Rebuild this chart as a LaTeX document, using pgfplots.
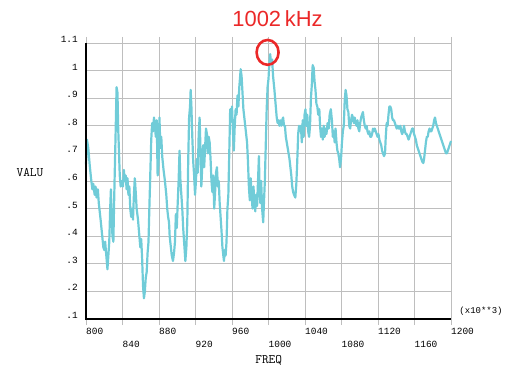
\documentclass[border=0pt]{standalone}
\usepackage{pgfplots}
\pgfplotsset{compat=1.18}
\usepackage{fontspec}
\setmainfont{Liberation Sans}
\newfontfamily\mono{Liberation Mono}
\definecolor{curve}{RGB}{112,204,216}
\definecolor{gridc}{RGB}{190,190,190}
\definecolor{titlered}{RGB}{235,40,40}
\pgfplotstableread{
x y
800 0.66
801 0.75
802.5 0.72
804 0.66
805.5 0.61
807 0.57
808 0.59
809.5 0.55
810.5 0.58
811.5 0.54
813 0.57
814 0.52
816 0.46
817.5 0.41
819 0.36
820 0.35
821 0.38
822 0.34
823.5 0.28
824.5 0.33
825.5 0.38
826.5 0.50
827.3 0.57
828 0.48
829 0.40
830 0.38
830.8 0.52
831.5 0.63
832.5 0.78
833.5 0.94
834.5 0.92
835.2 0.80
836 0.72
837 0.62
838 0.58
839.5 0.60
840.5 0.58
841.5 0.64
842.5 0.60
843.5 0.62
844.5 0.57
845.5 0.61
846.5 0.55
847.5 0.58
848.5 0.50
849.5 0.47
850.5 0.50
851.5 0.46
852.5 0.55
853.5 0.61
854.5 0.56
855.5 0.50
857 0.46
858.5 0.40
859.5 0.36
860.5 0.39
861.5 0.32
862.5 0.22
863.5 0.175
864.5 0.20
865.5 0.25
866.5 0.27
867.5 0.34
868.5 0.38
869.5 0.51
870.5 0.63
871.5 0.75
872.5 0.81
873.5 0.78
874.5 0.83
875.5 0.80
876.5 0.76
877.5 0.82
878.5 0.62
879.5 0.66
880.5 0.83
881.5 0.72
882.5 0.76
883.5 0.69
885 0.64
886.5 0.60
888 0.55
889 0.50
890 0.47
891 0.45
891.7 0.40
893 0.36
894 0.33
895.3 0.31
896.5 0.34
897.5 0.38
898.5 0.48
899.5 0.43
900.5 0.52
901.5 0.60
902.5 0.71
903.5 0.60
904.5 0.55
905.5 0.50
906.5 0.43
907.5 0.38
908.9 0.31
910 0.36
911 0.45
912 0.67
913 0.83
914 0.87
914.7 0.93
915.5 0.87
916.5 0.76
917.5 0.67
918.5 0.62
919.5 0.55
920.5 0.60
921.5 0.68
922.5 0.63
923.5 0.77
924.5 0.83
925.5 0.71
926.4 0.58
927.5 0.66
928.5 0.73
929.5 0.65
930.5 0.72
931.5 0.79
932.5 0.77
933.5 0.70
934.5 0.76
935.5 0.74
936.5 0.68
937.5 0.60
938.5 0.56
939.5 0.62
940.5 0.50
941.5 0.56
942.5 0.63
943.5 0.65
944.5 0.58
945.5 0.60
946.5 0.52
947.5 0.47
948.5 0.42
949.5 0.36
950.5 0.33
951.2 0.31
952 0.35
953 0.33
954 0.38
955 0.50
956 0.55
957 0.70
958 0.86
959 0.83
960 0.87
961 0.78
962 0.71
963 0.80
964 0.86
965 0.84
966 0.91
967 0.87
968 0.94
969.5 1.005
970.5 0.98
971.5 0.92
972.5 0.86
973.5 0.83
974.5 0.80
975.5 0.77
976.5 0.74
977.5 0.67
978.5 0.58
979.5 0.53
980.5 0.61
981.5 0.55
982.5 0.50
983.5 0.58
984.5 0.53
985.5 0.49
986.5 0.55
987.5 0.51
988.5 0.60
989.5 0.69
990.3 0.56
991 0.52
992 0.60
993 0.50
994.2 0.45
995 0.52
996 0.60
997 0.73
998 0.86
999 0.94
1000 0.97
1001 1.03
1001.8 1.06
1002.8 1.03
1004 1.04
1005 0.98
1006.5 0.93
1008 0.87
1009 0.83
1010 0.81
1011 0.82
1012 0.80
1013 0.82
1014 0.80
1015 0.82
1016 0.83
1017 0.80
1018 0.80
1019 0.76
1020 0.74
1021 0.72
1022 0.70
1023 0.68
1024 0.65
1025 0.62
1026 0.58
1027 0.56
1028 0.55
1029.4 0.54
1030.5 0.59
1031.5 0.67
1032.5 0.77
1033.5 0.80
1034.5 0.78
1035.5 0.80
1036.5 0.74
1037.5 0.82
1038.5 0.76
1039.5 0.84
1040.5 0.86
1041.5 0.80
1042.5 0.84
1043.5 0.78
1044.5 0.76
1045.5 0.80
1046.5 0.90
1047.5 0.95
1048.4 1.02
1049.5 1.01
1050.5 0.96
1051.5 0.93
1052.5 0.88
1053.5 0.87
1054.5 0.84
1055.7 0.86
1056.5 0.80
1057.5 0.76
1058.5 0.79
1059.5 0.75
1060.5 0.80
1061.5 0.76
1062.5 0.79
1063.5 0.77
1064.8 0.81
1066 0.79
1067 0.84
1068.3 0.86
1069.5 0.82
1070.5 0.76
1071.5 0.78
1072.5 0.74
1073.5 0.79
1074.5 0.74
1075.5 0.71
1076.5 0.70
1077.5 0.68
1078.4 0.65
1079.5 0.68
1080.5 0.74
1081.5 0.78
1082.5 0.80
1083.5 0.89
1084.5 0.93
1085.5 0.91
1086.5 0.86
1087.5 0.85
1088.5 0.80
1089.5 0.79
1090.5 0.82
1091.5 0.84
1092.5 0.83
1093.5 0.81
1094.5 0.83
1095.5 0.81
1096.5 0.80
1097.5 0.82
1098.5 0.79
1099.5 0.78
1100.5 0.81
1101.5 0.83
1102.5 0.84
1103.5 0.85
1104.5 0.82
1105.5 0.80
1106.5 0.79
1107.5 0.80
1108.5 0.78
1109.5 0.77
1110.5 0.78
1111.5 0.76
1112.5 0.76
1113.5 0.77
1114.5 0.79
1115.5 0.78
1116.5 0.79
1117.5 0.78
1118.5 0.77
1119.5 0.76
1120.5 0.77
1121.5 0.75
1122.5 0.74
1123.5 0.73
1124.5 0.71
1125.5 0.70
1126.6 0.69
1127.7 0.70
1128.5 0.76
1129.5 0.81
1130.5 0.80
1131.5 0.84
1132.5 0.87
1133.5 0.87
1134.5 0.86
1135.5 0.83
1136.5 0.82
1137.5 0.82
1138.5 0.81
1139.5 0.80
1140.5 0.79
1141.5 0.80
1142.5 0.79
1143.5 0.79
1144.5 0.80
1145.5 0.78
1146.5 0.77
1147.5 0.78
1148.5 0.80
1149.5 0.78
1150.5 0.77
1151.5 0.77
1152.5 0.76
1153.5 0.75
1154.5 0.76
1155.5 0.77
1156.5 0.78
1157.5 0.79
1158.5 0.79
1159.5 0.77
1160.5 0.76
1161.5 0.75
1162.5 0.73
1163.5 0.72
1164.5 0.71
1165.5 0.70
1166.5 0.69
1167.5 0.68
1168.5 0.67
1169.7 0.665
1170.5 0.68
1171.5 0.71
1172.5 0.74
1173.5 0.76
1174.5 0.76
1175.5 0.78
1176.5 0.79
1177.5 0.78
1178.5 0.78
1179.5 0.79
1180.5 0.80
1181.5 0.82
1182.5 0.83
1183.5 0.81
1184.5 0.80
1185.5 0.79
1186.5 0.78
1187.5 0.77
1188.5 0.76
1189.5 0.75
1190.5 0.74
1191.5 0.73
1192.5 0.72
1193.5 0.71
1194.5 0.70
1195.5 0.70
1196.5 0.71
1197.5 0.72
1198.5 0.73
1199.5 0.74
1200 0.745
}\datatable
\begin{document}
\begin{tikzpicture}
\begin{axis}[
  at={(0,0)}, anchor=south west,
  scale only axis, width=365bp, height=276bp,
  xmin=800, xmax=1200, ymin=0.1, ymax=1.1,
  clip=false,
  axis line style={gridc, line width=0.9bp},
  grid=major,
  major grid style={gridc, line width=0.9bp},
  xtick={800,880,960,1040,1120,1200},
  xticklabels={800,880,960,1040,1120,1200},
  extra x ticks={840,920,1000,1080,1160},
  extra x tick labels={840,920,1000,1080,1160},
  extra x tick style={grid=major, xticklabel style={yshift=-13.6bp}},
  ytick={0.1,0.2,0.3,0.4,0.5,0.6,0.7,0.8,0.9,1,1.1},
  yticklabels={.1,.2,.3,.4,.5,.6,.7,.8,.9,1,1.1},
  tick align=outside,
  x tick style={gridc, line width=0.9bp},
  major tick length=6bp,
  y tick style={draw=none},
  xticklabel style={font=\mono\fontsize{9.5}{10}\selectfont, anchor=north west, inner sep=0pt, yshift=-2.5bp},
  yticklabel style={font=\mono\fontsize{9.5}{10}\selectfont, anchor=base east, inner sep=0pt, xshift=-2bp, yshift=0.5bp},
]
\addplot[curve, line width=2.2bp, line join=round] table[x=x, y=y] {\datatable};
\addplot[only marks, mark=o, mark size=11bp, mark options={draw=titlered, line width=2.6bp, yscale=1.13}] coordinates {(999,1.066)};
\draw[black, line width=2.6bp] (rel axis cs:0,1) -- (rel axis cs:0,0) -- (rel axis cs:1,0);
\node[anchor=base, text=titlered, font=\fontsize{22}{24}\selectfont] at (rel axis cs:0.5247,1.059) {1002\,kHz};
\node[font=\ttfamily\fontsize{13}{15}\selectfont] at (rel axis cs:0,0.530) [xshift=-56bp] {VALU};
\node[font=\ttfamily\fontsize{13}{15}\selectfont] at (rel axis cs:0.5005,0) [yshift=-41bp] {FREQ};
\node[anchor=west, inner sep=0pt, font=\mono\fontsize{9}{10}\selectfont] at (rel axis cs:1,0) [xshift=8.3bp, yshift=8bp] {(x10**3)};
\end{axis}
\pgfresetboundingbox
\path[use as bounding box] (-86bp,-48bp) rectangle (426bp,319bp);
\end{tikzpicture}
\end{document}
